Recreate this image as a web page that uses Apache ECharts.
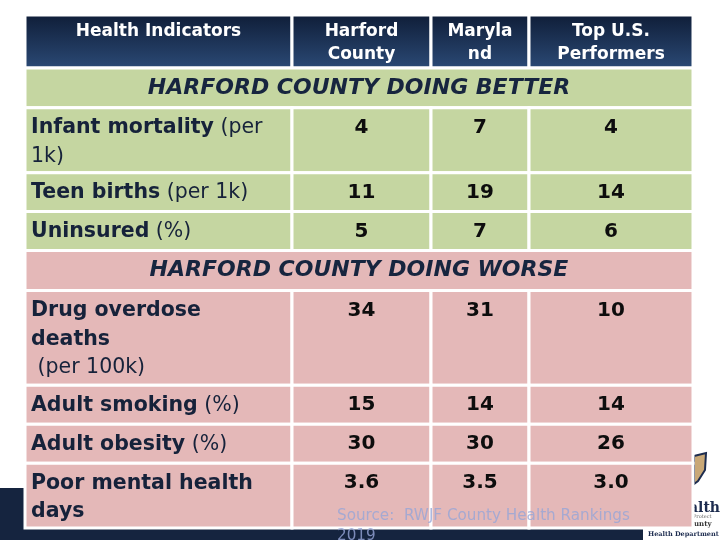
<!DOCTYPE html>
<html><head><meta charset="utf-8">
<script src="https://cdn.jsdelivr.net/npm/echarts@6/dist/echarts.min.js"></script>
<style>html,body{margin:0;padding:0;background:#fff}#c{width:720px;height:540px}</style>
</head><body><div id="c"></div>
<script>
// ---- data ----
const columns = ['Health Indicators', 'Harford\nCounty', 'Maryla\nnd', 'Top U.S.\nPerformers'];
const sections = ['HARFORD COUNTY DOING BETTER', 'HARFORD COUNTY DOING WORSE'];
const indicators = ['Infant mortality', 'Teen births', 'Uninsured', 'Drug overdose\ndeaths', 'Adult smoking', 'Adult obesity', 'Poor mental health\ndays'];
const units = [' (per\n1k)', ' (per 1k)', ' (%)', '\n (per 100k)', ' (%)', ' (%)', ''];
const sectionOf = [0, 0, 0, 1, 1, 1, 1];
const harford = [4, 11, 5, 34, 15, 30, 3.6];
const maryland = [7, 19, 7, 31, 14, 30, 3.5];
const topUS = [4, 14, 6, 10, 14, 26, 3.0];
const decimals = [0, 0, 0, 0, 0, 0, 1];
const sourceNote = 'Source:  RWJF County Health Rankings\n2019';

// ---- layout ----
const colWeights = [267, 139, 98, 164];
const colEdges = [0];
colWeights.forEach(w => colEdges.push(colEdges[colEdges.length - 1] + w));
const headerH = 53, sectionH = 40, lineH = {1: 39, 2: 65, 3: 95};
const GREEN = '#c5d6a1', PINK = '#e4b8b8', NAVY = '#15243f';
const series3 = [harford, maryland, topUS];

const rows = [{kind: 'header', h: headerH}];
sections.forEach((s, si) => {
  rows.push({kind: 'section', s: si, h: sectionH});
  indicators.forEach((name, i) => {
    if (sectionOf[i] === si) {
      const lines = (name + units[i]).split('\n').length;
      rows.push({kind: 'data', i: i, h: lineH[lines]});
    }
  });
});
const rowEdges = [0];
rows.forEach(r => rowEdges.push(rowEdges[rowEdges.length - 1] + r.h));

const cells = [];
rows.forEach((r, ri) => {
  if (r.kind === 'section') cells.push([-1, ri]);
  else for (let c = 0; c < 4; c++) cells.push([c, ri]);
});

const LABEL_FONT = 'DejaVu Sans';

function renderItem(params, api) {
  const c = api.value(0), r = api.value(1);
  const row = rows[r];
  const xa = c < 0 ? colEdges[0] : colEdges[c];
  const xb = c < 0 ? colEdges[colEdges.length - 1] : colEdges[c + 1];
  const p0 = api.coord([xa, rowEdges[r]]);
  const p1 = api.coord([xb, rowEdges[r + 1]]);
  const x = p0[0], y = p0[1], w = p1[0] - p0[0], h = p1[1] - p0[1];
  let fill;
  if (row.kind === 'header') {
    fill = {type: 'linear', x: 0, y: 0, x2: 0, y2: 1,
      colorStops: [{offset: 0, color: '#0f1d37'}, {offset: 1, color: '#2b4a76'}]};
  } else if (row.kind === 'section') {
    fill = row.s === 0 ? GREEN : PINK;
  } else {
    fill = sectionOf[row.i] === 0 ? GREEN : PINK;
  }
  const children = [{
    type: 'rect', shape: {x: x, y: y, width: w, height: h},
    style: {fill: fill, stroke: '#ffffff', lineWidth: 3}
  }];
  let txt;
  if (row.kind === 'header') {
    txt = {type: 'text', x: x + w / 2, y: y + 5, z2: 10, style: {
      text: columns[c], fill: '#ffffff', fontFamily: LABEL_FONT, fontWeight: 'bold',
      fontSize: 17, lineHeight: 23, align: 'center', verticalAlign: 'top'}};
  } else if (row.kind === 'section') {
    txt = {type: 'text', x: x + w / 2, y: y + h / 2, z2: 10, style: {
      text: sections[row.s], fill: '#17253f', fontFamily: LABEL_FONT, fontWeight: 'bold',
      fontStyle: 'italic', fontSize: 22, align: 'center', verticalAlign: 'middle'}};
  } else if (c === 0) {
    const i = row.i;
    const rich = '{b|' + indicators[i] + '}' + (units[i] ? '{n|' + units[i] + '}' : '');
    txt = {type: 'text', x: x + 6, y: y + 6, z2: 10, style: {
      text: rich, align: 'left', verticalAlign: 'top', lineHeight: 28.5,
      rich: {
        b: {fontFamily: LABEL_FONT, fontWeight: 'bold', fontSize: 20.5, fill: '#16223a', lineHeight: 28.5},
        n: {fontFamily: LABEL_FONT, fontWeight: 'normal', fontSize: 20.5, fill: '#16223a', lineHeight: 28.5}
      }}};
  } else {
    const i = row.i;
    const v = series3[c - 1][i];
    txt = {type: 'text', x: x + w / 2, y: y + 6, z2: 10, style: {
      text: v.toFixed(decimals[i]), fill: '#0d0d0d', fontFamily: LABEL_FONT, fontWeight: 'bold',
      fontSize: 20, lineHeight: 28, align: 'center', verticalAlign: 'top'}};
  }
  children.push(txt);
  return {type: 'group', children: children};
}

const chart = echarts.init(document.getElementById('c'));
chart.setOption({
  animation: false,
  backgroundColor: '#ffffff',
  grid: {left: 25, top: 15, width: 668, height: 513},
  xAxis: {type: 'value', min: 0, max: colEdges[colEdges.length - 1], show: false},
  yAxis: {type: 'value', min: 0, max: rowEdges[rowEdges.length - 1], inverse: true, show: false},
  graphic: [
    {type: 'rect', left: 0, top: 488, shape: {width: 25, height: 52}, style: {fill: NAVY}, z: 0},
    {type: 'rect', left: 0, top: 529, shape: {width: 643, height: 11}, style: {fill: NAVY}, z: 0},
    {type: 'polygon', shape: {points: [[694, 456], [706, 453], [705, 470], [698, 481], [694, 484]]},
      style: {fill: '#c9a877', stroke: '#1d2c4f', lineWidth: 2}, z: 0},
    {type: 'text', left: 689, top: 501, style: {text: 'alth', fill: '#1d2c4f', font: 'bold 14px "DejaVu Serif"'}, z: 0},
    {type: 'text', left: 693, top: 514, style: {text: 'Protect', fill: '#666', font: '5px "DejaVu Serif"'}, z: 0},
    {type: 'text', left: 694, top: 521, style: {text: 'unty', fill: '#333', font: 'bold 7px "DejaVu Serif"'}, z: 0},
    {type: 'text', left: 648, top: 531, style: {text: 'Health Department', fill: '#1d2c4f', font: 'bold 6.5px "DejaVu Serif"'}, z: 0},
    {type: 'text', left: 337, top: 506, z: 100, style: {text: sourceNote, fill: 'rgba(150,165,215,0.8)',
      font: '15.2px "DejaVu Sans"', lineHeight: 20}}
  ],
  series: [{
    type: 'custom',
    coordinateSystem: 'cartesian2d',
    renderItem: renderItem,
    data: cells,
    silent: true
  }]
});
</script></body></html>
